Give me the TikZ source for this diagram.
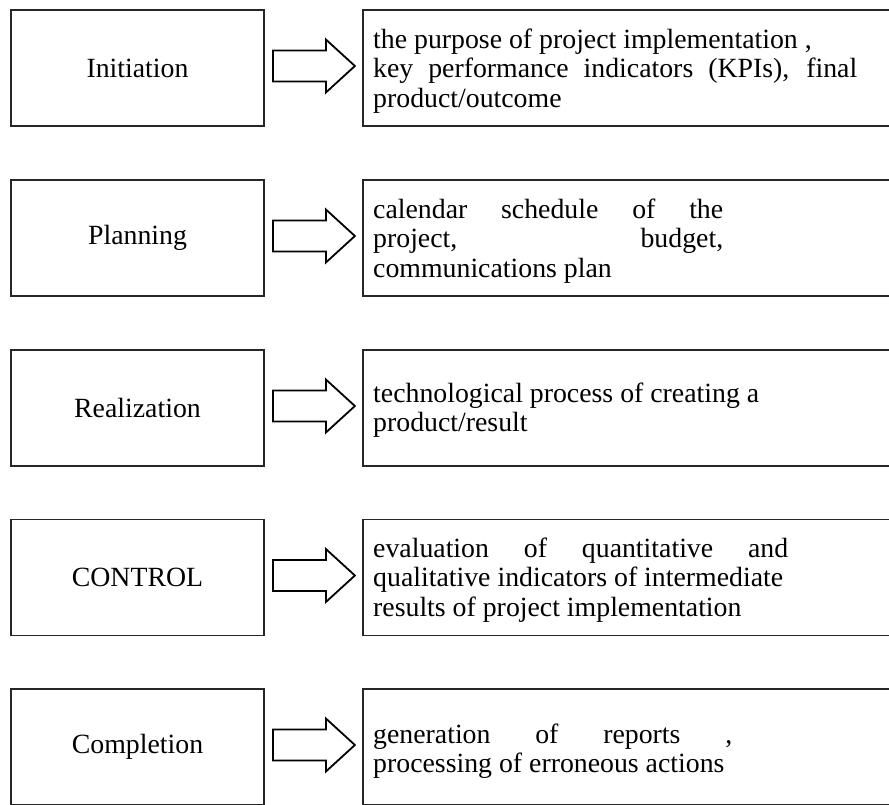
\documentclass[tikz,border=0pt]{standalone}
\usepackage{fontspec}
\setmainfont{Liberation Serif}
\begin{document}
\begin{tikzpicture}[x=1pt,y=-1pt,
  box/.style={draw=black!85,line width=1.8pt,rectangle,inner sep=0pt},
  lbox/.style={box,minimum width=253pt,minimum height=116pt,font=\fontsize{27.8}{29.5}\selectfont},
  rbox/.style={box,minimum width=540pt,minimum height=116pt,anchor=west},
  rtext/.style={anchor=west,align=left,inner sep=0pt,font=\fontsize{27.8}{29.5}\selectfont},
  barrow/.style={draw=black,line width=1.8pt,fill=white,line join=miter}]
\useasboundingbox (0,0) rectangle (889,804);
\fill[white] (0,0) rectangle (889,804);
% rows: centres 68, 238, 408, 577.5, 747
\foreach \n/\c/\lab in {1/68/Initiation,2/238/Planning,3/408/Realization,4/577.5/CONTROL,5/747/Completion}{
  \node[lbox] (L\n) at (137.5,\c) {\lab};
  \node[rbox] (R\n) at (362,\c) {};
  \draw[barrow] (L\n.east) ++(8,-17.5) -- ++(53,0) -- ++(0,-11) -- ++(29,26.5)
     -- ++(-29,26.5) -- ++(0,-11) -- ++(-53,0) -- cycle;
}
\node[rtext] (T1) at (373,71) {the purpose of project implementation ,\\
  \makebox[484pt][s]{key performance indicators (KPIs), final}\\
  product/outcome};
\node[rtext] (T2) at (373,241) {\makebox[350pt][s]{calendar schedule of the}\\
  \makebox[350pt][s]{project, budget,}\\
  communications plan};
\node[rtext] (T3) at (373,410) {technological process of creating a\\ product/result};
\node[rtext] (T4) at (373,580) {\makebox[415pt][s]{evaluation of quantitative and}\\
  qualitative indicators of intermediate\\
  results of project implementation};
\node[rtext] (T5) at (373,751) {\makebox[359pt][s]{generation of reports ,}\\
  processing of erroneous actions};
\end{tikzpicture}
\end{document}
